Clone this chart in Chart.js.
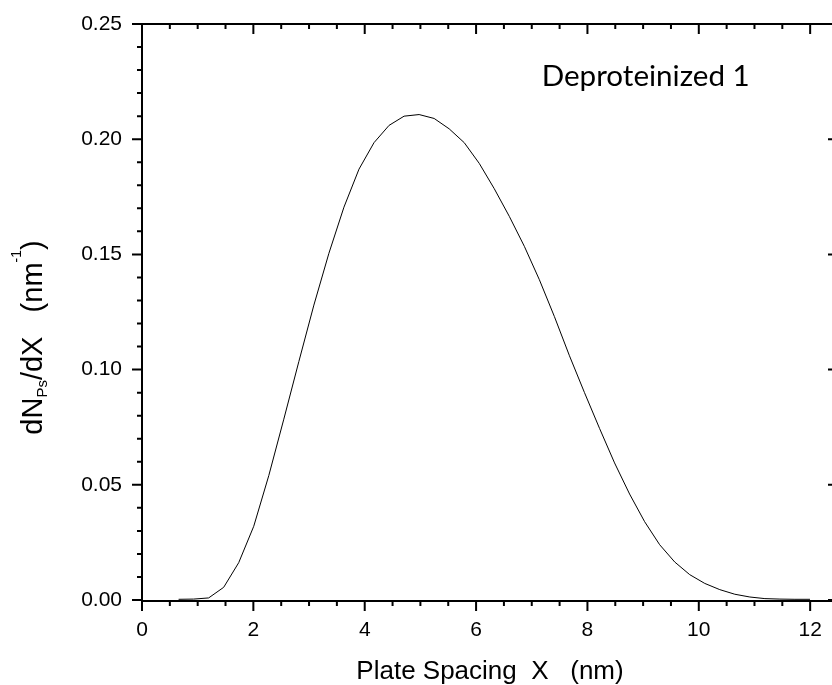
<!DOCTYPE html>
<html><head><meta charset="utf-8">
<script src="https://cdn.jsdelivr.net/npm/chart.js@4.4.0/dist/chart.umd.min.js"></script>
<style>
html,body{margin:0;padding:0;background:#fff;overflow:hidden;width:832px;height:685px;}
#wrap{position:absolute;left:0;top:0;width:860px;height:685px;}
</style></head><body>
<div id="wrap"><canvas id="c" width="860" height="685"></canvas></div>
<script>
// ---- data ----
const plateSpacing = [0.657, 0.927, 1.197, 1.467, 1.737, 2.007, 2.277, 2.547, 2.817, 3.087,
  3.357, 3.627, 3.897, 4.167, 4.437, 4.707, 4.977, 5.247, 5.517, 5.787,
  6.057, 6.327, 6.597, 6.867, 7.137, 7.407, 7.677, 7.947, 8.217, 8.487,
  8.757, 9.027, 9.297, 9.567, 9.837, 10.107, 10.377, 10.647, 10.917, 11.187,
  11.457, 11.727, 11.997];
const dNdX = [0.0003, 0.0004, 0.0009, 0.0055, 0.0162, 0.0320, 0.0540, 0.0785, 0.1035, 0.1280,
  0.1505, 0.1705, 0.1870, 0.1985, 0.2060, 0.2100, 0.2107, 0.2090, 0.2045, 0.1985,
  0.1895, 0.1785, 0.1665, 0.1535, 0.1390, 0.1230, 0.1060, 0.0900, 0.0745, 0.0595,
  0.0460, 0.0340, 0.0240, 0.0165, 0.0110, 0.0072, 0.0045, 0.0025, 0.0013, 0.0006,
  0.0004, 0.0003, 0.0003];
const xTickValues = [0, 2, 4, 6, 8, 10, 12];
const yTickValues = [0, 0.05, 0.10, 0.15, 0.20, 0.25];
const xMinorTicks = [0.5,1,1.5,2.5,3,3.5,4.5,5,5.5,6.5,7,7.5,8.5,9,9.5,10.5,11,11.5,12.5];
const yMinorTicks = [0.01,0.02,0.03,0.04,0.06,0.07,0.08,0.09,0.11,0.12,0.13,0.14,0.16,0.17,0.18,0.19,0.21,0.22,0.23,0.24];
const xRange = [0, 12.5];
const yRange = [0, 0.25];
const xTitle = 'Plate Spacing  X   (nm)';
const yTitleParts = [['dN','n'],['Ps','sub'],['/dX   (nm','n'],['-1','sup'],[')','n']];
const annotationText = 'Deproteinized 1';

const FONT = "'Liberation Sans', Arial, sans-serif";

const framePlugin = {
  id: 'frame',
  afterDraw(chart) {
    const ctx = chart.ctx, xs = chart.scales.x, ys = chart.scales.y;
    const L = xs.getPixelForValue(xRange[0]), R = xs.getPixelForValue(xRange[1]);
    const B = ys.getPixelForValue(yRange[0]), T = ys.getPixelForValue(yRange[1]);
    ctx.save();
    ctx.strokeStyle = '#000';
    ctx.lineWidth = 2;
    ctx.lineCap = 'butt';
    ctx.beginPath();
    ctx.moveTo(L - 1, B + 1); ctx.lineTo(R + 1, B + 1);
    ctx.moveTo(L - 1, T); ctx.lineTo(R + 1, T);
    ctx.moveTo(L, T); ctx.lineTo(L, B + 2);
    ctx.moveTo(R, T); ctx.lineTo(R, B + 2);
    ctx.stroke();
    ctx.beginPath();
    const major = 10, minor = 5;
    xTickValues.forEach(v => { const p = xs.getPixelForValue(v);
      ctx.moveTo(p, B + 1); ctx.lineTo(p, B + 1 + major); ctx.moveTo(p, T); ctx.lineTo(p, T + major); });
    xMinorTicks.forEach(v => { const p = xs.getPixelForValue(v);
      ctx.moveTo(p, B + 1); ctx.lineTo(p, B + 1 + minor); ctx.moveTo(p, T); ctx.lineTo(p, T + minor); });
    yTickValues.forEach(v => { const p = ys.getPixelForValue(v);
      ctx.moveTo(L, p); ctx.lineTo(L - major, p); ctx.moveTo(R, p); ctx.lineTo(R - major, p); });
    yMinorTicks.forEach(v => { const p = ys.getPixelForValue(v);
      ctx.moveTo(L, p); ctx.lineTo(L - minor, p); ctx.moveTo(R, p); ctx.lineTo(R - minor, p); });
    ctx.stroke();

    // y axis title with subscript / superscript
    const main = 29, sub = 15, sup = 14;
    const parts = yTitleParts.map(([t, k]) => {
      const size = k === 'n' ? main : (k === 'sub' ? sub : sup);
      ctx.font = size + 'px ' + FONT;
      return {t, k, size, w: ctx.measureText(t).width};
    });
    const total = parts.reduce((a, p) => a + p.w, 0);
    const centerY = 337.5, baseX = 41.5;
    ctx.translate(baseX, centerY + total / 2);
    ctx.rotate(-Math.PI / 2);
    ctx.fillStyle = '#000';
    ctx.textBaseline = 'alphabetic';
    ctx.textAlign = 'left';
    let pos = 0;
    parts.forEach(p => {
      ctx.font = p.size + 'px ' + FONT;
      const dy = p.k === 'sub' ? 5 : (p.k === 'sup' ? -21 : 0);
      ctx.fillText(p.t, pos, dy);
      pos += p.w;
    });
    ctx.restore();

    // annotation
    ctx.save();
    ctx.fillStyle = '#000';
    ctx.textBaseline = 'alphabetic';
    ctx.textAlign = 'left';
    let fs = 26;
    ctx.font = fs + 'px Lato, sans-serif';
    const w = ctx.measureText(annotationText).width;
    fs = fs * 208 / w;
    ctx.font = fs.toFixed(2) + 'px Lato, sans-serif';
    ctx.fillText(annotationText, 541.7, 86);
    ctx.restore();
  }
};

new Chart(document.getElementById('c'), {
  type: 'scatter',
  data: {
    datasets: [{
      data: plateSpacing.map((x, i) => ({x, y: dNdX[i]})),
      showLine: true,
      borderColor: '#000',
      borderWidth: 1,
      pointRadius: 0,
      tension: 0,
      fill: false
    }]
  },
  options: {
    responsive: false,
    animation: false,
    devicePixelRatio: 1,
    layout: { padding: { top: 24, right: 22, left: 0, bottom: 0 } },
    plugins: { legend: { display: false }, tooltip: { enabled: false } },
    scales: {
      x: {
        type: 'linear', position: 'bottom', min: xRange[0], max: xRange[1],
        afterBuildTicks: s => { s.ticks = xTickValues.map(v => ({value: v})); },
        afterFit: s => { s.height = 85; s.paddingLeft = 0; s.paddingRight = 0; },
        ticks: { color: '#000', font: { family: FONT, size: 21 }, padding: 18, maxRotation: 0, autoSkip: false,
          callback: v => String(v) },
        grid: { display: false, drawTicks: false },
        border: { display: false },
        title: { display: true, text: xTitle, color: '#000', font: { family: FONT, size: 26, lineHeight: 1 }, padding: { top: 0, bottom: 0 } }
      },
      y: {
        type: 'linear', position: 'left', min: yRange[0], max: yRange[1],
        afterBuildTicks: s => { s.ticks = yTickValues.map(v => ({value: v})); },
        afterFit: s => { s.width = 142; s.paddingTop = 0; s.paddingBottom = 0; },
        ticks: { color: '#000', font: { family: FONT, size: 21 }, padding: 20, autoSkip: false,
          callback: v => Number(v).toFixed(2) },
        grid: { display: false, drawTicks: false },
        border: { display: false }
      }
    }
  },
  plugins: [framePlugin]
});
</script>
</body></html>
